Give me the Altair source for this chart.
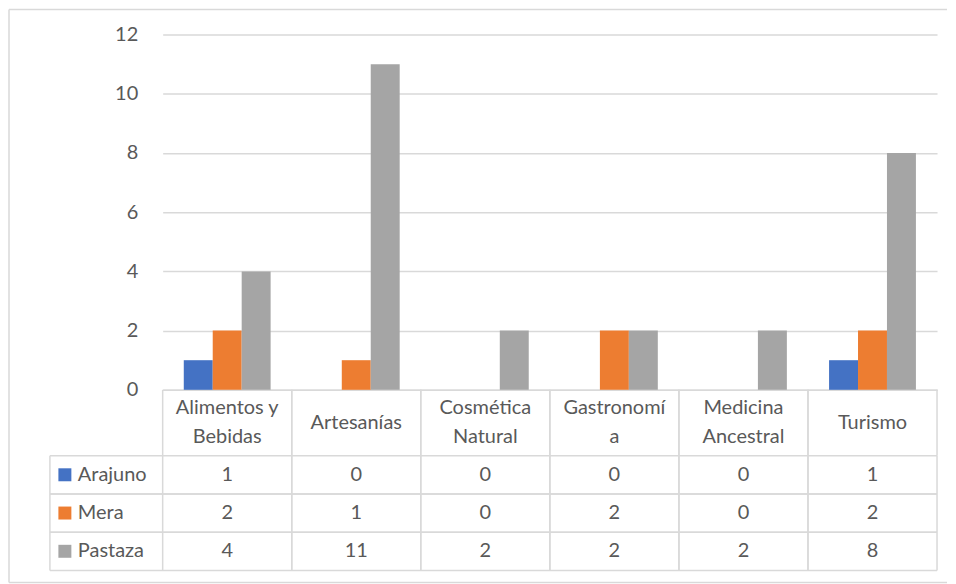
import altair as alt
import pandas as pd

# ---- data ----
categories = ["Alimentos y Bebidas", "Artesanías", "Cosmética Natural",
              "Gastronomía", "Medicina Ancestral", "Turismo"]
category_labels = ["Alimentos y\nBebidas", "Artesanías", "Cosmética\nNatural",
                   "Gastronomí\na", "Medicina\nAncestral", "Turismo"]
series = ["Arajuno", "Mera", "Pastaza"]
arajuno = [1, 0, 0, 0, 0, 1]
mera = [2, 1, 0, 2, 0, 2]
pastaza = [4, 11, 2, 2, 2, 8]
colors = ["#4472C4", "#ED7D31", "#A5A5A5"]
y_ticks = [0, 2, 4, 6, 8, 10, 12]

rows = []
for s, vals in zip(series, [arajuno, mera, pastaza]):
    for c, v in zip(categories, vals):
        rows.append({"categoria": c, "serie": s, "valor": v})
df = pd.DataFrame(rows)
cat_df = pd.DataFrame({"categoria": categories, "etiqueta": category_labels,
                       "lineas": [lbl.count("\n") + 1 for lbl in category_labels]})
ser_df = pd.DataFrame({"serie": series})
one = pd.DataFrame({"k": [0]})

# ---- style ----
FONT = "Lato"
FS = 20
TXT = "#595959"
LINE = "#d9d9d9"
LW = 1.5
W = 776
H = 356
HEAD_H = 66
BODY_H = 115
LH = 29
LEG_X = -113  # left edge of legend column (relative to plot)

color_scale = alt.Scale(domain=series, range=colors)

# ---- bar chart ----
bars = alt.Chart(df).mark_bar().encode(
    x=alt.X("categoria:N", sort=categories,
            scale=alt.Scale(paddingInner=0.327, paddingOuter=0.1635),
            axis=alt.Axis(title=None, labels=False, ticks=False,
                          domainColor=LINE, domainWidth=LW, grid=False)),
    xOffset=alt.XOffset("serie:N", sort=series,
                        scale=alt.Scale(paddingInner=0, paddingOuter=0)),
    y=alt.Y("valor:Q", scale=alt.Scale(domain=[0, 12], nice=False),
            axis=alt.Axis(title=None, values=y_ticks, ticks=False, domain=False,
                          labelPadding=25, labelFont=FONT, labelFontSize=FS,
                          labelColor=TXT, gridColor=LINE, gridWidth=LW)),
    color=alt.Color("serie:N", scale=color_scale, legend=None),
)

border_top = alt.Chart(one).mark_rule(color=LINE, strokeWidth=LW).encode(
    x=alt.value(-154), x2=alt.value(786), y=alt.value(-25))
border_left = alt.Chart(one).mark_rule(color=LINE, strokeWidth=LW).encode(
    x=alt.value(-154), y=alt.value(-25), y2=alt.value(549))
border_bottom = alt.Chart(one).mark_rule(color=LINE, strokeWidth=LW).encode(
    x=alt.value(-154), x2=alt.value(786), y=alt.value(549))

top = alt.layer(border_top, border_left, border_bottom, bars).properties(width=W, height=H)

# ---- table header ----
tx = alt.X("categoria:N", sort=categories,
           scale=alt.Scale(paddingInner=0, paddingOuter=0), axis=None)
tx0 = alt.X("categoria:N", sort=categories,
            scale=alt.Scale(paddingInner=0, paddingOuter=0), axis=None, bandPosition=0)
tx1 = alt.X("categoria:N", sort=categories,
            scale=alt.Scale(paddingInner=0, paddingOuter=0), axis=None, bandPosition=1)

head_text = alt.Chart(cat_df).mark_text(
    font=FONT, fontSize=FS, color=TXT, lineBreak="\n", lineHeight=LH,
    baseline="middle", align="center").encode(
    x=tx,
    y=alt.Y("lineas:Q", axis=None,
            scale=alt.Scale(domain=[1, 2], range=[HEAD_H / 2, HEAD_H / 2 - LH / 2])),
    text="etiqueta:N")
head_v0 = alt.Chart(cat_df).mark_rule(color=LINE, strokeWidth=LW).encode(x=tx0)
head_v1 = alt.Chart(cat_df).mark_rule(color=LINE, strokeWidth=LW).encode(x=tx1)

header = alt.layer(head_v0, head_v1, head_text).properties(width=W, height=HEAD_H)

# ---- table body ----
ty = alt.Y("serie:N", sort=series, scale=alt.Scale(paddingInner=0, paddingOuter=0), axis=None)
ty0 = alt.Y("serie:N", sort=series, scale=alt.Scale(paddingInner=0, paddingOuter=0),
            axis=None, bandPosition=0)
ty1 = alt.Y("serie:N", sort=series, scale=alt.Scale(paddingInner=0, paddingOuter=0),
            axis=None, bandPosition=1)

cells = alt.Chart(df).mark_text(font=FONT, fontSize=FS, color=TXT,
                                baseline="middle", align="center").encode(
    x=tx, y=ty, text="valor:Q")
body_h0 = alt.Chart(ser_df).mark_rule(color=LINE, strokeWidth=LW).encode(
    y=ty0, x=alt.value(LEG_X), x2=alt.value(W))
body_h1 = alt.Chart(ser_df).mark_rule(color=LINE, strokeWidth=LW).encode(
    y=ty1, x=alt.value(LEG_X), x2=alt.value(W))
body_v0 = alt.Chart(cat_df).mark_rule(color=LINE, strokeWidth=LW).encode(x=tx0)
body_v1 = alt.Chart(cat_df).mark_rule(color=LINE, strokeWidth=LW).encode(x=tx1)
body_vl = alt.Chart(one).mark_rule(color=LINE, strokeWidth=LW).encode(
    x=alt.value(LEG_X), y=alt.value(0), y2=alt.value(BODY_H))
swatch = alt.Chart(ser_df).mark_square(size=169, opacity=1).encode(
    x=alt.value(LEG_X + 15), y=ty,
    color=alt.Color("serie:N", scale=color_scale, legend=None))
leg_text = alt.Chart(ser_df).mark_text(font=FONT, fontSize=FS, color=TXT,
                                       baseline="middle", align="left").encode(
    x=alt.value(LEG_X + 28), y=ty, text="serie:N")

body = alt.layer(body_h0, body_h1, body_v0, body_v1, body_vl, swatch, leg_text, cells
                 ).properties(width=W, height=BODY_H)

chart = alt.vconcat(top, header, body, spacing=0, bounds="flush").properties(
    padding=0
).configure_view(stroke=None).resolve_scale(color="shared")

chart.save("out.html", embed_options={"renderer": "svg", "actions": False})
